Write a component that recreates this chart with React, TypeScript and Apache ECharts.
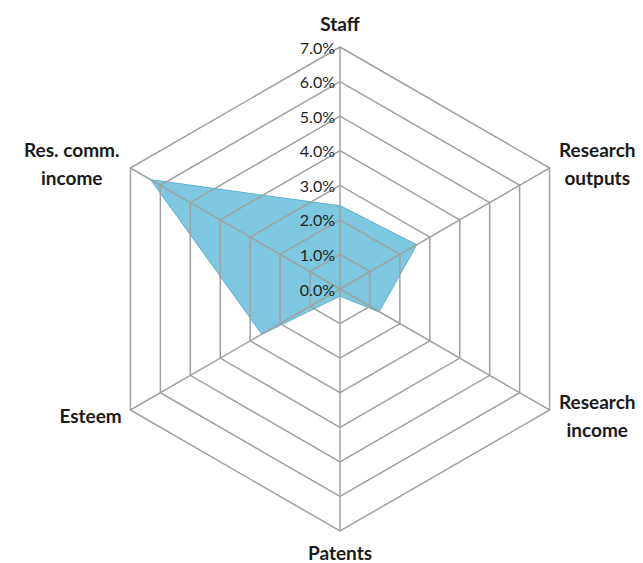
import React, { useEffect, useRef } from "react";
import * as echarts from "echarts";

// Categories in clockwise order starting at the top (as in the reference)
const categories = ["Staff", "Research\noutputs", "Research\nincome", "Patents", "Esteem", "Res. comm.\nincome"];
const values = [2.4, 2.55, 1.3, 0.2, 2.6, 6.3];
const axisMax = 7;
const tickCount = 7;

export default function App() {
  const ref = useRef<HTMLDivElement>(null);
  useEffect(() => {
    document.body.style.margin = "0";
    const chart = echarts.init(ref.current!, undefined, { renderer: "svg" });
    // ECharts places radar indicators counter-clockwise; reorder to keep clockwise layout
    const order = [0, ...categories.slice(1).map((_, i) => categories.length - 1 - i)];
    const indicator = order.map((idx, k) => ({
      name: categories[idx],
      min: 0,
      max: axisMax,
      axisLabel: { show: k === 0 },
    }));
    const data = order.map((idx) => values[idx]);
    const base = { fontSize: 19, fontWeight: "bold", fontFamily: "Lato", color: "#1a1a1a", lineHeight: 28 };
    chart.setOption({
      animation: false,
      backgroundColor: "#ffffff",
      radar: {
        z: 3,
        center: [340, 289],
        radius: 242,
        startAngle: 90,
        shape: "polygon",
        splitNumber: tickCount,
        indicator,
        axisName: {
          ...base,
          formatter: (name: string) => {
            if (name === "Staff") return "{top|Staff}";
            if (name.indexOf("\n") < 0) return "{p|" + name + "}";
            const style = name.startsWith("Res.") ? "w" : "r";
            return name
              .split("\n")
              .map((l) => "{" + style + "|" + l + "}")
              .join("\n");
          },
          rich: {
            p: { ...base, lineHeight: 22 },
            w: { ...base, width: 100, align: "center" },
            r: { ...base, width: 78, align: "center" },
            top: { ...base, lineHeight: 22, padding: [0, 0, 6, 0] },
          },
        },
        nameGap: 10,
        axisLine: { lineStyle: { color: "#a0a0a0", width: 1.5 } },
        splitLine: { lineStyle: { color: "#a0a0a0", width: 1.5 } },
        splitArea: { show: false },
        axisTick: { show: false },
        axisLabel: {
          show: false,
          color: "#1f1f1f",
          fontSize: 16,
          fontFamily: "Lato",
          margin: 5,
          formatter: (v: number) => v.toFixed(1) + "%",
        },
      },
      series: [
        {
          type: "radar",
          z: 1,
          symbol: "none",
          lineStyle: { color: "#58a9c6", width: 1.5 },
          areaStyle: { color: "#7dc7e0", opacity: 1 },
          data: [{ value: data }],
        },
      ],
    });
    return () => chart.dispose();
  }, []);
  return <div ref={ref} style={{ width: 643, height: 563 }} />;
}
